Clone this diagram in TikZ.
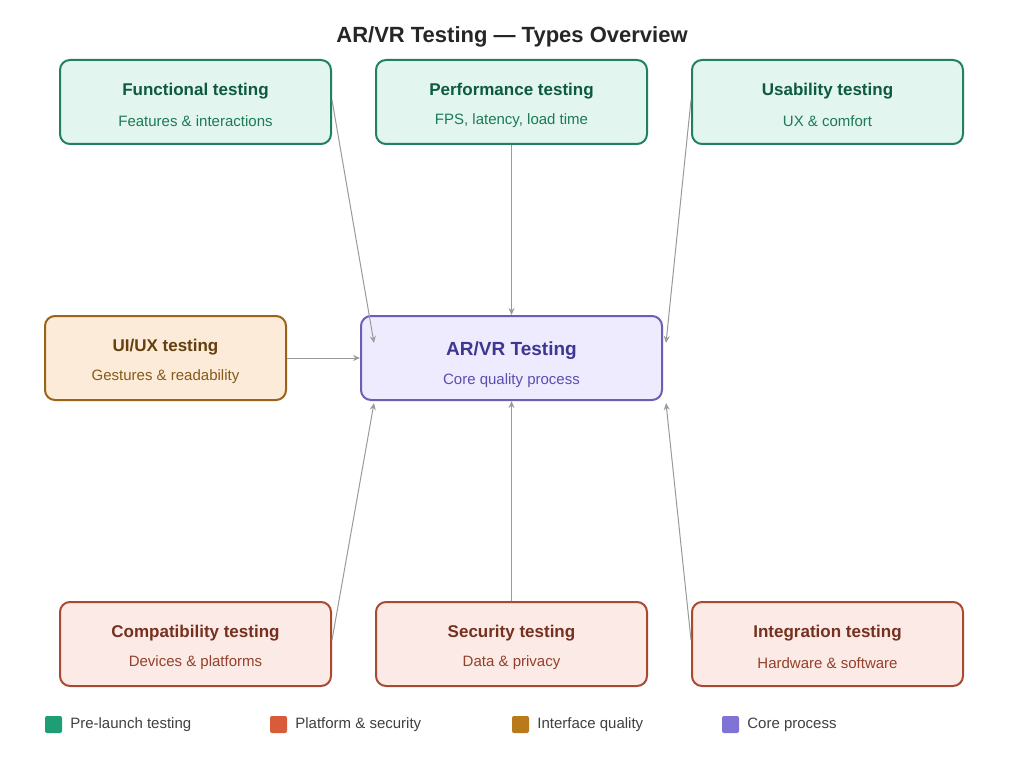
\documentclass[tikz,border=0pt]{standalone}
\usepackage{fontspec}
\setmainfont{Liberation Sans}
\usetikzlibrary{calc,arrows.meta}

\definecolor{grnfill}{HTML}{E2F5EE}
\definecolor{grnline}{HTML}{23805C}
\definecolor{grntext}{HTML}{0E5A40}
\definecolor{grnsub}{HTML}{1C7A56}
\definecolor{orgfill}{HTML}{FBEBD8}
\definecolor{orgline}{HTML}{9A6418}
\definecolor{orgtext}{HTML}{663F0E}
\definecolor{orgsub}{HTML}{865A1C}
\definecolor{redfill}{HTML}{FBEAE5}
\definecolor{redline}{HTML}{A84A32}
\definecolor{redtext}{HTML}{76301F}
\definecolor{redsub}{HTML}{94402A}
\definecolor{purfill}{HTML}{EDEBFD}
\definecolor{purline}{HTML}{6A5FB5}
\definecolor{purtext}{HTML}{3E3690}
\definecolor{pursub}{HTML}{5A4FB0}
\definecolor{arrowgray}{HTML}{9A9A9A}
\definecolor{leggrn}{HTML}{1E9E74}
\definecolor{legred}{HTML}{D85C3A}
\definecolor{legorg}{HTML}{B87A1A}
\definecolor{legpur}{HTML}{7F74D6}

\begin{document}
\begin{tikzpicture}[
                x=1pt,y=-1pt,
                line width=2pt,
                typebox/.style={draw,rounded corners=10pt,minimum width=271pt,minimum height=84pt},
                ttl/.style={font=\fontsize{17}{20}\selectfont\bfseries},
                sub/.style={font=\fontsize{15}{18}\selectfont},
                feed/.style={draw=arrowgray,line width=1pt,-{Stealth[open,length=7pt,width=6pt]}},
                legtxt/.style={font=\fontsize{15}{18}\selectfont,text=black!75,anchor=west}]

\useasboundingbox[fill=white] (0,0) rectangle (1024,783);

% title
\node[font=\fontsize{22}{26}\selectfont\bfseries,text=black!85] (TITLE) at (512,37) {AR/VR Testing — Types Overview};

                    % top row
                    \node[typebox,fill=grnfill,draw=grnline] (FUNC) at (195.5,102) {};
                    \node[ttl,text=grntext] at (195.5,91) {Functional testing};
                    \node[sub,text=grnsub] at (195.5,121) {Features \& interactions};

                    \node[typebox,fill=grnfill,draw=grnline] (PERF) at (511.5,102) {};
                    \node[ttl,text=grntext] at (511.5,91) {Performance testing};
                    \node[sub,text=grnsub] at (511.5,121) {FPS, latency, load time};

                    \node[typebox,fill=grnfill,draw=grnline] (USAB) at (827.5,102) {};
                    \node[ttl,text=grntext] at (827.5,91) {Usability testing};
                    \node[sub,text=grnsub] at (827.5,121) {UX \& comfort};

                    % middle row
                    \node[typebox,minimum width=241pt,fill=orgfill,draw=orgline] (UIUX) at (165.5,358) {};
                    \node[ttl,text=orgtext] at (165.5,347) {UI/UX testing};
                    \node[sub,text=orgsub] at (165.5,377) {Gestures \& readability};

                    \node[typebox,minimum width=301pt,fill=purfill,draw=purline] (CORE) at (511.5,358) {};
                    \node[ttl,font=\fontsize{19}{22}\selectfont\bfseries,text=purtext] at (511.5,351) {AR/VR Testing};
                    \node[sub,text=pursub] at (511.5,381) {Core quality process};

                    % bottom row
                    \node[typebox,fill=redfill,draw=redline] (COMP) at (195.5,644) {};
                    \node[ttl,text=redtext] at (195.5,633) {Compatibility testing};
                    \node[sub,text=redsub] at (195.5,663) {Devices \& platforms};

                    \node[typebox,fill=redfill,draw=redline] (SECU) at (511.5,644) {};
                    \node[ttl,text=redtext] at (511.5,633) {Security testing};
                    \node[sub,text=redsub] at (511.5,663) {Data \& privacy};

                    \node[typebox,fill=redfill,draw=redline] (INTG) at (827.5,644) {};
                    \node[ttl,text=redtext] at (827.5,633) {Integration testing};
                    \node[sub,text=redsub] at (827.5,663) {Hardware \& software};

                    % connectors
                    \draw[feed] ($(FUNC.east)+(0,-2)$) -- ($(CORE.north west)+(14,28)$);
                    \draw[feed] (PERF.south) -- (CORE.north);
                    \draw[feed] ($(USAB.west)+(0,-2)$) -- ($(CORE.north east)+(3,28)$);
                    \draw[feed] (UIUX.east) -- (CORE.west);
                    \draw[feed] ($(COMP.east)+(0,-4)$) -- ($(CORE.south west)+(14,2)$);
                    \draw[feed] (SECU.north) -- (CORE.south);
                    \draw[feed] ($(INTG.west)+(0,-4)$) -- ($(CORE.south east)+(3,2)$);

%%%%%%%%%%%%%%%%%%%%%%%%%%%%%%%%%%%%%%%%%%%%%%%%%%%%%%%%%%%%%%%%%%%%%%%%%%%%%%%%%%%%
% legend
\fill[leggrn,rounded corners=2pt] (45,716) rectangle (62,733);
\node[legtxt] (LGRN) at (66,725) {Pre-launch testing};
\fill[legred,rounded corners=2pt] (270,716) rectangle (287,733);
\node[legtxt] (LRED) at (291,725) {Platform \& security};
\fill[legorg,rounded corners=2pt] (512,716) rectangle (529,733);
\node[legtxt] (LORG) at (533,725) {Interface quality};
\fill[legpur,rounded corners=2pt] (722,716) rectangle (739,733);
\node[legtxt] (LPUR) at (743,725) {Core process};

\end{tikzpicture}
\end{document}
